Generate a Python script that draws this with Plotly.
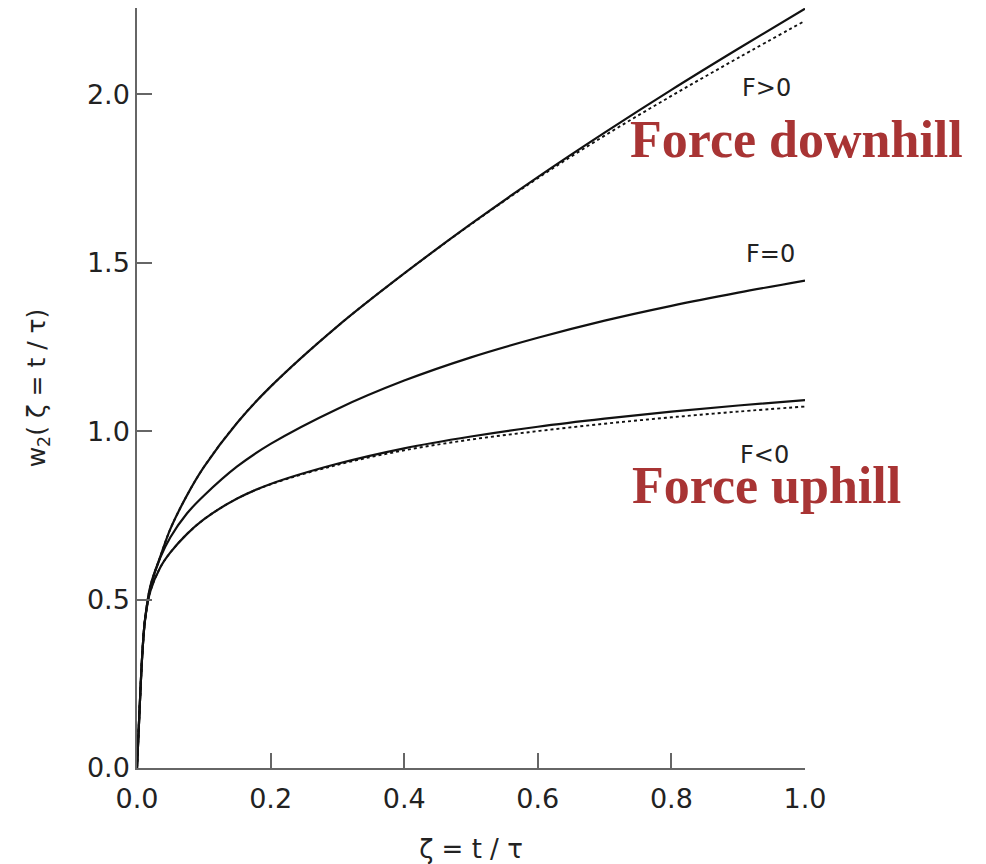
import plotly.graph_objects as go

# Dimensionless time zeta = t / tau
zeta = [0, 0.004, 0.008, 0.012, 0.02, 0.035, 0.05, 0.075, 0.1, 0.15,
        0.2, 0.3, 0.4, 0.5, 0.6, 0.7, 0.8, 0.9, 1.0]

# w2 for the three forcing cases (full solution, solid)
w2_pos = [0, 0.18, 0.34, 0.44, 0.54, 0.628, 0.71, 0.81, 0.893, 1.025,
          1.132, 1.311, 1.468, 1.615, 1.754, 1.886, 2.013, 2.135, 2.254]
w2_zero = [0, 0.18, 0.34, 0.44, 0.535, 0.625, 0.685, 0.756, 0.808, 0.895,
           0.962, 1.066, 1.150, 1.219, 1.277, 1.328, 1.372, 1.411, 1.447]
w2_neg = [0, 0.18, 0.34, 0.44, 0.525, 0.596, 0.64, 0.695, 0.738, 0.80,
          0.843, 0.903, 0.949, 0.984, 1.013, 1.037, 1.058, 1.076, 1.092]

# Approximate solutions (dotted)
w2_pos_approx = [0, 0.18, 0.34, 0.44, 0.54, 0.628, 0.71, 0.81, 0.893, 1.025,
                 1.132, 1.311, 1.468, 1.614, 1.751, 1.877, 1.995, 2.108, 2.218]
w2_neg_approx = [0, 0.18, 0.34, 0.44, 0.525, 0.596, 0.64, 0.695, 0.738, 0.80,
                 0.842, 0.900, 0.943, 0.975, 1.0, 1.022, 1.041, 1.058, 1.073]

x_ticks = [0.0, 0.2, 0.4, 0.6, 0.8, 1.0]
y_ticks = [0.0, 0.5, 1.0, 1.5, 2.0]

fig = go.Figure()

for ys in (w2_pos_approx, w2_neg_approx):
    fig.add_trace(go.Scatter(x=zeta, y=ys, mode="lines",
                             line=dict(color="#111", width=1.9, dash="dot", shape="spline"),
                             showlegend=False, hoverinfo="skip"))

for ys in (w2_pos, w2_zero, w2_neg):
    fig.add_trace(go.Scatter(x=zeta, y=ys, mode="lines",
                             line=dict(color="#111", width=2.2, shape="spline"),
                             showlegend=False))

tick_font = dict(family="DejaVu Sans", size=27, color="#222")
axis_style = dict(showline=True, linecolor="#666", linewidth=1.5,
                  ticks="inside", ticklen=15, tickwidth=1.5, tickcolor="#666",
                  showgrid=False, zeroline=False, tickfont=tick_font,
                  tickformat=".1f", automargin=False)

fig.update_xaxes(range=[0, 1], tickvals=x_ticks, ticklabelstandoff=6,
                 title=dict(text="ζ = t / τ", font=dict(family="DejaVu Sans", size=26, color="#222"),
                            standoff=28),
                 **axis_style)
fig.update_yaxes(range=[0, 2.256], tickvals=y_ticks,
                 title=dict(text="w<sub>2</sub>( ζ = t / τ)",
                            font=dict(family="DejaVu Sans", size=25, color="#222"),
                            standoff=34),
                 **axis_style)

label_font = dict(family="DejaVu Sans", size=24, color="#222")
for txt, xv, yv in (("F>0", 0.942, 2.02), ("F=0", 0.948, 1.527), ("F<0", 0.94, 0.93)):
    fig.add_annotation(x=xv, y=yv, xref="x", yref="y", text=txt, showarrow=False,
                       font=label_font)

red_font = dict(family="Liberation Serif", size=52, color="#A83434")
fig.add_annotation(x=0.987, y=1.866, xref="x", yref="y", text="<b>Force downhill</b>",
                   showarrow=False, font=red_font)
fig.add_annotation(x=0.942, y=0.839, xref="x", yref="y", text="<b>Force uphill</b>",
                   showarrow=False, font=red_font)

fig.update_layout(width=986, height=864, paper_bgcolor="white", plot_bgcolor="white",
                  margin=dict(l=137, r=181, t=8, b=96), showlegend=False)

fig.write_html("out.html")
